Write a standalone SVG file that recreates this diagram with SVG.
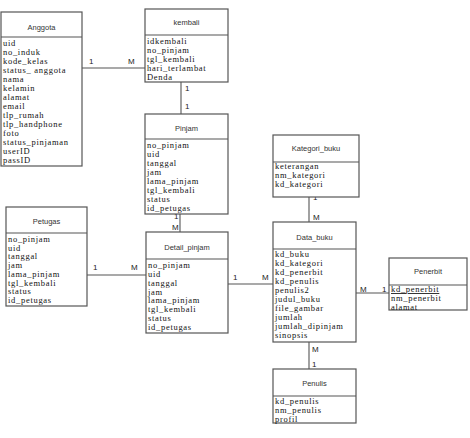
<svg xmlns="http://www.w3.org/2000/svg" width="470" height="438" viewBox="0 0 470 438">
<style>
.box{fill:#fff;stroke:#555;stroke-width:1.2}
.div{stroke:#555;stroke-width:1.2}
.h{font-family:"Liberation Sans",Arial,sans-serif;font-size:7.5px;fill:#333;text-anchor:middle}
.a{font-family:"Liberation Serif","Times New Roman",serif;font-size:8.5px;letter-spacing:0.7px;fill:#111}
.c{stroke:#555;stroke-width:1.1;fill:none}
.l{font-family:"Liberation Sans",Arial,sans-serif;font-size:8px;fill:#222}
</style>
<rect width="470" height="438" fill="#fff"/>
<g id="connectors">
<line class="c" x1="82" y1="68" x2="146" y2="68"/>
<line class="c" x1="181" y1="82" x2="181" y2="114"/>
<line class="c" x1="180" y1="214" x2="180" y2="232"/>
<line class="c" x1="87" y1="275" x2="146" y2="275"/>
<line class="c" x1="228" y1="284" x2="273" y2="284"/>
<line class="c" x1="309" y1="197" x2="309" y2="222"/>
<line class="c" x1="356" y1="293" x2="389" y2="293"/>
<line class="c" x1="309" y1="342" x2="309" y2="369"/>
<text class="l" x="89" y="64">1</text>
<text class="l" x="128" y="64">M</text>
<text class="l" x="185" y="91">1</text>
<text class="l" x="185" y="109">1</text>
<text class="l" x="174" y="219">1</text>
<text class="l" x="172" y="230">M</text>
<text class="l" x="93" y="270">1</text>
<text class="l" x="131" y="270">M</text>
<text class="l" x="233" y="280">1</text>
<text class="l" x="262" y="280">M</text>
<text class="l" x="313" y="200">1</text>
<text class="l" x="313" y="220">M</text>
<text class="l" x="360" y="292">M</text>
<text class="l" x="382" y="292">1</text>
<text class="l" x="312" y="352">M</text>
<text class="l" x="312" y="367">1</text>
</g>
<g id="anggota">
<rect class="box" x="1" y="12" width="81" height="154"/>
<line class="div" x1="1" y1="37" x2="82" y2="37"/>
<text class="h" x="41.5" y="30">Anggota</text>
<text class="a" x="3" y="46">uid</text>
<text class="a" x="3" y="55">no_induk</text>
<text class="a" x="3" y="64">kode_kelas</text>
<text class="a" x="3" y="73">status_ anggota</text>
<text class="a" x="3" y="82">nama</text>
<text class="a" x="3" y="91">kelamin</text>
<text class="a" x="3" y="100">alamat</text>
<text class="a" x="3" y="109">email</text>
<text class="a" x="3" y="118">tlp_rumah</text>
<text class="a" x="3" y="127">tlp_handphone</text>
<text class="a" x="3" y="136">foto</text>
<text class="a" x="3" y="145">status_pinjaman</text>
<text class="a" x="3" y="154">userID</text>
<text class="a" x="3" y="163">passID</text>
</g>
<g id="kembali">
<rect class="box" x="145" y="9" width="83" height="73"/>
<line class="div" x1="145" y1="35" x2="228" y2="35"/>
<text class="h" x="186.5" y="25">kembali</text>
<text class="a" x="147" y="44">idkembali</text>
<text class="a" x="147" y="53">no_pinjam</text>
<text class="a" x="147" y="62">tgl_kembali</text>
<text class="a" x="147" y="71">hari_terlambat</text>
<text class="a" x="147" y="80">Denda</text>
</g>
<g id="pinjam">
<rect class="box" x="145" y="114" width="83" height="100"/>
<line class="div" x1="145" y1="139" x2="228" y2="139"/>
<text class="h" x="186.5" y="131">Pinjam</text>
<text class="a" x="147" y="148">no_pinjam</text>
<text class="a" x="147" y="157">uid</text>
<text class="a" x="147" y="166">tanggal</text>
<text class="a" x="147" y="175">jam</text>
<text class="a" x="147" y="184">lama_pinjam</text>
<text class="a" x="147" y="193">tgl_kembali</text>
<text class="a" x="147" y="202">status</text>
<text class="a" x="147" y="211">id_petugas</text>
</g>
<g id="petugas">
<rect class="box" x="6" y="207" width="81" height="99"/>
<line class="div" x1="6" y1="233" x2="87" y2="233"/>
<text class="h" x="46.5" y="224">Petugas</text>
<text class="a" x="8" y="242">no_pinjam</text>
<text class="a" x="8" y="250.7">uid</text>
<text class="a" x="8" y="259.4">tanggal</text>
<text class="a" x="8" y="268.1">jam</text>
<text class="a" x="8" y="276.8">lama_pinjam</text>
<text class="a" x="8" y="285.5">tgl_kembali</text>
<text class="a" x="8" y="294.2">status</text>
<text class="a" x="8" y="303">id_petugas</text>
</g>
<g id="detail_pinjam">
<rect class="box" x="146" y="232" width="82" height="101"/>
<line class="div" x1="146" y1="259" x2="228" y2="259"/>
<text class="h" x="187" y="250">Detail_pinjam</text>
<text class="a" x="148" y="268">no_pinjam</text>
<text class="a" x="148" y="276.9">uid</text>
<text class="a" x="148" y="285.7">tanggal</text>
<text class="a" x="148" y="294.6">jam</text>
<text class="a" x="148" y="303.4">lama_pinjam</text>
<text class="a" x="148" y="312.3">tgl_kembali</text>
<text class="a" x="148" y="321.1">status</text>
<text class="a" x="148" y="330">id_petugas</text>
</g>
<g id="kategori_buku">
<rect class="box" x="273" y="135" width="86" height="62"/>
<line class="div" x1="273" y1="162" x2="359" y2="162"/>
<text class="h" x="316" y="151">Kategori_buku</text>
<text class="a" x="275" y="169">keterangan</text>
<text class="a" x="275" y="178">nm_kategori</text>
<text class="a" x="275" y="187">kd_kategori</text>
</g>
<g id="data_buku">
<rect class="box" x="273" y="222" width="83" height="120"/>
<line class="div" x1="273" y1="249" x2="356" y2="249"/>
<text class="h" x="314.5" y="240">Data_buku</text>
<text class="a" x="275" y="257">kd_buku</text>
<text class="a" x="275" y="266">kd_kategori</text>
<text class="a" x="275" y="275">kd_penerbit</text>
<text class="a" x="275" y="284">kd_penulis</text>
<text class="a" x="275" y="293">penulis2</text>
<text class="a" x="275" y="302">judul_buku</text>
<text class="a" x="275" y="311">file_gambar</text>
<text class="a" x="275" y="320">jumlah</text>
<text class="a" x="275" y="329">jumlah_dipinjam</text>
<text class="a" x="275" y="338">sinopsis</text>
</g>
<g id="penerbit">
<rect class="box" x="389" y="258" width="78" height="52"/>
<line class="div" x1="389" y1="285" x2="467" y2="285"/>
<text class="h" x="428" y="274">Penerbit</text>
<text class="a" x="391" y="292" text-decoration="underline">kd_penerbit</text>
<text class="a" x="391" y="301">nm_penerbit</text>
<text class="a" x="391" y="310">alamat</text>
</g>
<g id="penulis">
<rect class="box" x="273" y="369" width="83" height="54"/>
<line class="div" x1="273" y1="396" x2="356" y2="396"/>
<text class="h" x="314.5" y="386">Penulis</text>
<text class="a" x="275" y="404">kd_penulis</text>
<text class="a" x="275" y="413">nm_penulis</text>
<text class="a" x="275" y="422">profil</text>
</g>
</svg>
